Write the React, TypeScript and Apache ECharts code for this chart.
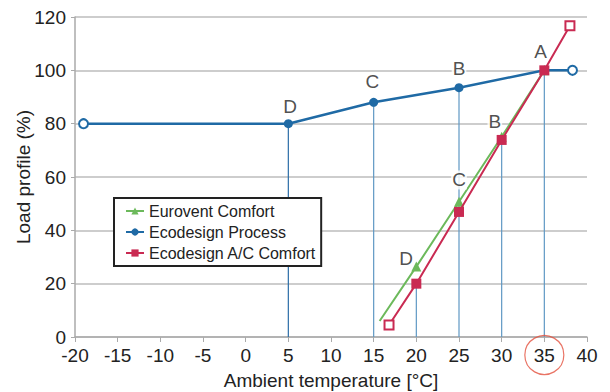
import React, { useEffect, useRef } from "react";
import * as echarts from "echarts";

const processX = [-19, 5, 15, 25, 35, 38.3];
const processY = [80, 80, 88, 93.5, 100, 100];
const euroventX = [15.7, 20, 25, 30, 35];
const euroventY = [6, 26.4, 50.7, 75.1, 100];
const acX = [16.8, 20, 25, 30, 35, 38];
const acY = [4.5, 20, 46.9, 73.9, 100, 116.7];

const dropX = [5, 15, 20, 25, 30, 35];
const dropY = [80, 88, 20, 93.5, 73.9, 100];

const pointLabels = ["D", "C", "B", "A", "B", "C", "D"];
const labelX = [5.2, 14.85, 25, 34.55, 29.2, 25, 18.8];
const labelY = [86.6, 95.7, 100.75, 106.9, 80.7, 58.9, 29.5];
const labelMask = [false, false, true, false, true, true, false];

const highlightX = [35];
const highlightY = [-6.75];

const seriesNames = ["Eurovent Comfort", "Ecodesign Process", "Ecodesign A/C Comfort"];

const FONT = "'Liberation Sans', Arial, Helvetica, sans-serif";
const BLUE = "#1f6aa5";
const GREEN = "#6cb95b";
const RED = "#c92a52";

export default function App() {
  const ref = useRef<HTMLDivElement>(null);
  useEffect(() => {
    document.body.style.margin = "0";
    const chart = echarts.init(ref.current!, undefined, { renderer: "svg" });

    const dropSeries = dropX.map((x, i) => ({
      type: "line",
      silent: true,
      symbol: "none",
      z: 1,
      lineStyle: { color: i === 0 ? "#2a6ca6" : "#5f98c4", width: 1.2 },
      data: [
        [x, 0],
        [x, dropY[i]],
      ],
    }));

    const processData = processX.map((x, i) => {
      const end = i === 0 || i === processX.length - 1;
      return end
        ? { value: [x, processY[i]], symbol: "emptyCircle", itemStyle: { borderWidth: 1.5, color: BLUE } }
        : { value: [x, processY[i]] };
    });
    const euroData = euroventX.map((x, i) =>
      i === 0 ? { value: [x, euroventY[i]], symbol: "none" } : { value: [x, euroventY[i]] }
    );
    const acData = acX.map((x, i) => {
      const end = i === 0 || i === acX.length - 1;
      return end
        ? { value: [x, acY[i]], symbol: "emptyRect", symbolSize: 9, itemStyle: { borderWidth: 1.5, color: RED } }
        : { value: [x, acY[i]] };
    });

    const labelData = pointLabels.map((t, i) => ({
      name: t,
      value: [labelX[i], labelY[i]],
      label: labelMask[i]
        ? { backgroundColor: "#fff", padding: [0, 1] }
        : {},
    }));

    chart.setOption({
      animation: false,
      textStyle: { fontFamily: FONT },
      grid: { left: 75, right: 23, top: 17, bottom: 55, containLabel: false, outerBoundsMode: "none" },
      xAxis: {
        type: "value",
        min: -20,
        max: 40,
        interval: 5,
        name: "Ambient temperature [°C]",
        nameLocation: "middle",
        nameGap: 34,
        nameTextStyle: { fontSize: 19, color: "#222", fontFamily: FONT },
        axisLine: { show: true, onZero: false, lineStyle: { color: "#aaa", width: 1.5 } },
        axisTick: { show: true, length: 5, lineStyle: { color: "#aaa" } },
        axisLabel: { fontSize: 19, color: "#222", margin: 9, fontFamily: FONT },
        splitLine: { show: false },
      },
      yAxis: {
        type: "value",
        min: 0,
        max: 120,
        interval: 20,
        name: "Load profile (%)",
        nameLocation: "middle",
        nameGap: 42,
        nameMoveOverlap: false,
        nameRotate: 90,
        nameTextStyle: { fontSize: 19, color: "#222", fontFamily: FONT },
        axisLine: { show: true, onZero: false, lineStyle: { color: "#aaa", width: 1.5 } },
        axisTick: { show: true, length: 4, lineStyle: { color: "#aaa" } },
        axisLabel: { fontSize: 19, color: "#222", margin: 9, fontFamily: FONT },
        splitLine: { show: true, lineStyle: { color: "#bdbdbd", width: 1.5 } },
      },
      legend: {
        data: seriesNames,
        orient: "vertical",
        left: 114,
        top: 198,
        itemWidth: 18,
        itemHeight: 9,
        itemGap: 5,
        padding: [5, 5, 5, 11],
        borderColor: "#222",
        borderWidth: 2,
        borderRadius: 0,
        backgroundColor: "#fff",
        textStyle: { fontSize: 16, color: "#222", fontFamily: FONT },
        z: 20,
      },
      series: [
        ...dropSeries,
        {
          name: "Ecodesign Process",
          type: "line",
          z: 3,
          symbol: "circle",
          symbolSize: 9,
          color: BLUE,
          lineStyle: { color: BLUE, width: 2.5 },
          itemStyle: { color: BLUE },
          data: processData,
        },
        {
          name: "Eurovent Comfort",
          type: "line",
          z: 4,
          symbol: "triangle",
          symbolSize: 10,
          color: GREEN,
          lineStyle: { color: GREEN, width: 2 },
          itemStyle: { color: GREEN },
          data: euroData,
        },
        {
          name: "Ecodesign A/C Comfort",
          type: "line",
          z: 5,
          symbol: "rect",
          symbolSize: 10,
          color: RED,
          lineStyle: { color: RED, width: 2 },
          itemStyle: { color: RED },
          data: acData,
        },
        {
          type: "scatter",
          silent: true,
          z: 10,
          symbolSize: 0,
          label: {
            show: true,
            position: "inside",
            formatter: "{b}",
            fontSize: 19,
            color: "#222",
            fontFamily: FONT,
          },
          data: labelData,
        },
        {
          type: "scatter",
          silent: true,
          clip: false,
          z: 10,
          symbol: "circle",
          symbolSize: 39,
          itemStyle: { color: "rgba(0,0,0,0)", borderColor: "#e4513f", borderWidth: 1.2 },
          data: highlightX.map((x, i) => [x, highlightY[i]]),
        },
      ],
    });
    return () => chart.dispose();
  }, []);
  return <div ref={ref} style={{ width: 610, height: 392 }} />;
}
